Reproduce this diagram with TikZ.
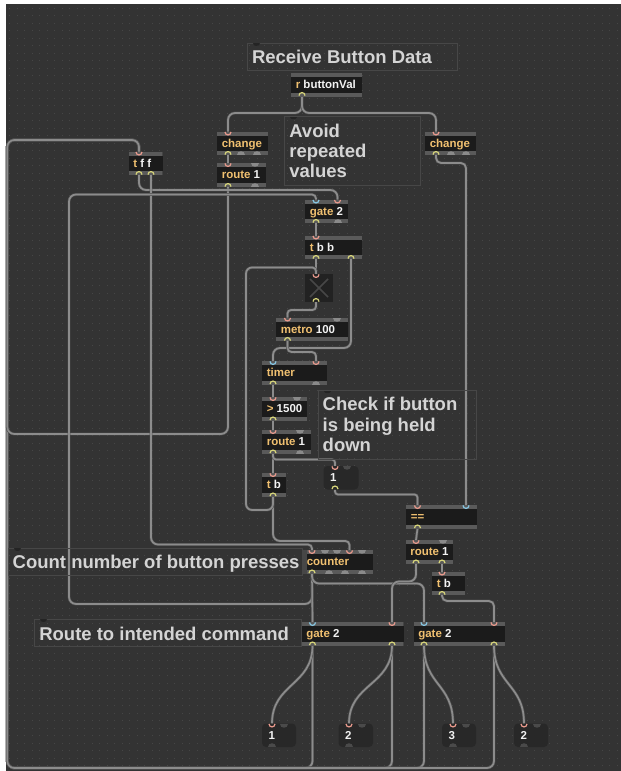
\documentclass[tikz,border=0pt]{standalone}
\usepackage{fontspec}
\setmainfont{Liberation Sans}
\definecolor{bgc}{HTML}{333333}
\definecolor{dotc}{HTML}{464646}
\definecolor{bodyc}{HTML}{1B1B1B}
\definecolor{barc}{HTML}{5A5A5A}
\definecolor{cls}{HTML}{F0C070}
\definecolor{argc}{HTML}{F2F2F2}
\definecolor{cordc}{HTML}{8C8C8C}
\definecolor{cordedge}{HTML}{4E4E4E}
\definecolor{hot}{HTML}{E8998C}
\definecolor{cold}{HTML}{86C6E2}
\definecolor{outc}{HTML}{D6D47A}
\definecolor{bump}{HTML}{8A8A8A}
\definecolor{mbump}{HTML}{4A4A4A}
\definecolor{msgc}{HTML}{282828}
\definecolor{cmtc}{HTML}{D4D4D4}
\definecolor{cmtbox}{HTML}{474747}
\definecolor{tabc}{HTML}{242424}
\definecolor{togc}{HTML}{222222}
\definecolor{togx}{HTML}{474747}
\tikzset{
  cord/.style={draw=cordedge, line width=0.6pt, double=cordc, double distance=1.7pt, rounded corners=7pt},
  mobox/.style={fill=bodyc, inner sep=0pt, outer sep=0pt, minimum height=23.5pt,
    path picture={\fill[barc] (path picture bounding box.north west) rectangle ([yshift=-4pt]path picture bounding box.north east);
                  \fill[barc] (path picture bounding box.south west) rectangle ([yshift=4pt]path picture bounding box.south east);}},
  msgbox/.style={fill=msgc, rounded corners=4pt, inner sep=0pt, outer sep=0pt, minimum height=23.5pt},
  otext/.style={inner sep=0pt, outer sep=0pt, text=argc, font=\fontsize{11.5}{13}\selectfont\bfseries},
  ctext/.style={inner sep=0pt, outer sep=0pt, text=cmtc, font=\fontsize{18.5}{20}\selectfont\bfseries},
  cbox/.style={draw=cmtbox, line width=0.8pt, inner sep=0pt, outer sep=0pt, anchor=north west},
}
\newcommand\MO[6]{%
  \pgfmathsetmacro\mow{#3-#2}%
  \node[mobox, minimum width=\mow pt, anchor=north west] (#1) at (#2,#4) {};
  \node[otext, anchor=base west] (#1-txt) at ({#2+4.8},{#4+15.7}) {\textcolor{cls}{#5}#6};}
\newcommand\MB[5]{%
  \pgfmathsetmacro\mbw{#3-#2}%
  \node[msgbox, minimum width=\mbw pt, anchor=north west] (#1) at (#2,#4) {};
  \node[otext, anchor=base west] (#1-txt) at ({#2+6.5},{#4+15.5}) {#5};}
\newcommand\inarc[2]{\draw[#2, line width=1.2pt] ([xshift=-3pt,yshift=-0.4pt]#1) .. controls ([xshift=-3pt,yshift=-4.4pt]#1) and ([xshift=3pt,yshift=-4.4pt]#1) .. ([xshift=3pt,yshift=-0.4pt]#1);}
\newcommand\outarc[2]{\draw[#2, line width=1.2pt] ([xshift=-3pt,yshift=0.4pt]#1) .. controls ([xshift=-3pt,yshift=4.4pt]#1) and ([xshift=3pt,yshift=4.4pt]#1) .. ([xshift=3pt,yshift=0.4pt]#1);}
\newcommand\inbump[3]{\fill[#3] ({#1-4},#2) .. controls ({#1-4},{#2+5}) and ({#1+4},{#2+5}) .. ({#1+4},#2) -- cycle;}
\newcommand\outbump[3]{\fill[#3] ({#1-4},#2) .. controls ({#1-4},{#2-5}) and ({#1+4},{#2-5}) .. ({#1+4},#2) -- cycle;}
\newcommand\ctab[2]{\fill[tabc] ({#1+5.5},#2) .. controls ({#1+5.5},{#2+3.5}) and ({#1+12.5},{#2+3.5}) .. ({#1+12.5},#2) -- cycle;}
\begin{document}
\begin{tikzpicture}[x=1pt,y=-1pt]
\useasboundingbox (0,0) rectangle (621,771);
\fill[white] (0,0) rectangle (621,771);
\fill[bgc] (5.5,4) rectangle (621,771);
\foreach \yy in {0,...,101}
  \draw[dotc, line width=1pt, dash pattern=on 1pt off 6.5pt] (9,{8+7.5*\yy}) -- (621,{8+7.5*\yy});

% ---- inlet / outlet points
\coordinate (rbv-o1) at (302,96);
\coordinate (chL-i1) at (228,131.5); \coordinate (chL-o1) at (228,155);
\coordinate (rt1-i1) at (228,163); \coordinate (rt1-o1) at (228,187);
\coordinate (chR-i1) at (436,131.5); \coordinate (chR-o1) at (436,155);
\coordinate (tff-i1) at (139,151.5); \coordinate (tff-o1) at (139,175); \coordinate (tff-o2) at (151,175);
\coordinate (gA-i1) at (316,199.5); \coordinate (gA-i2) at (337.5,199.5); \coordinate (gA-o1) at (316,223);
\coordinate (tbb-i1) at (316,235.5); \coordinate (tbb-o1) at (316,259); \coordinate (tbb-o2) at (351,259);
\coordinate (tog-i1) at (316,274); \coordinate (tog-o1) at (316,302);
\coordinate (met-i1) at (287.5,317.5); \coordinate (met-o1) at (287.5,341);
\coordinate (tim-i1) at (273,361); \coordinate (tim-i2) at (316,361); \coordinate (tim-o1) at (273,384.5);
\coordinate (gt-i1) at (273,397); \coordinate (gt-o1) at (273,420.5);
\coordinate (rt2-i1) at (273,430); \coordinate (rt2-o1) at (273,453.5);
\coordinate (tbM-i1) at (273,473); \coordinate (tbM-o1) at (273,496.5);
\coordinate (m1-i1) at (335,466); \coordinate (m1-o1) at (335,489.5);
\coordinate (eq-i1) at (417.5,505); \coordinate (eq-i2) at (466,505); \coordinate (eq-o1) at (417.5,528.5);
\coordinate (rt3-i1) at (416,540); \coordinate (rt3-o1) at (416,563.5); \coordinate (rt3-o2) at (442,563.5);
\coordinate (tbL-i1) at (442,571.5); \coordinate (tbL-o1) at (442,595);
\coordinate (cnt-i1) at (312,550); \coordinate (cnt-i4) at (349.5,550); \coordinate (cnt-o1) at (312,573.5);
\coordinate (gB-i1) at (312.5,622); \coordinate (gB-i2) at (392,622); \coordinate (gB-o1) at (312.5,645.5); \coordinate (gB-o2) at (392,645.5);
\coordinate (gC-i1) at (424,622); \coordinate (gC-i2) at (494,622); \coordinate (gC-o1) at (424,645.5); \coordinate (gC-o2) at (494,645.5);
\coordinate (n1-i1) at (272,723.5); \coordinate (n2-i1) at (349,723.5);
\coordinate (n3-i1) at (453,723.5); \coordinate (n4-i1) at (524,723.5);
\coordinate (botline) at (0,768);

% ---- cords
\foreach \c in {gB-o1,gB-o2,gC-o1,gC-o2}
  \draw[cord] (\c) -- (\c |- botline) -- (7.3,768) -- (7.3,140) -| (tff-i1);
\draw[cord] (rt1-o1) -- (228,434) -- (7.3,434) -- (7.3,140) -| (tff-i1);
\draw[cord] (rbv-o1) -- ++(0,17) -| (chL-i1);
\draw[cord] (rbv-o1) -- ++(0,17) -| (chR-i1);
\draw[cord] (chL-o1) -- (rt1-i1);
\draw[cord] (tff-o1) -- ++(0,15) -| (gA-i2);
\draw[cord] (tff-o2) -- (151,544.5) [rounded corners=4pt] -| (cnt-i1);
\draw[cord] (cnt-o1) -- (312,604) -- (69,604) -- (69,194.5) [rounded corners=4pt] -| (gA-i1);
\draw[cord] (cnt-o1) -- (gB-i1);
\draw[cord] (cnt-o1) -- ++(0,10) -| (gC-i1);
\draw[cord] (gA-o1) -- (tbb-i1);
\draw[cord] (tbb-o1) -- (tog-i1);
\draw[cord] (tbb-o2) -- (351,348) -| (tim-i1);
\draw[cord, rounded corners=3.5pt] (tog-o1) -- ++(0,8) -| (met-i1);
\draw[cord, rounded corners=4pt] (met-o1) -- ++(0,11) -| (tim-i2);
\draw[cord] (tim-o1) -- (gt-i1);
\draw[cord] (gt-o1) -- (rt2-i1);
\draw[cord] (rt2-o1) -- (tbM-i1);
\draw[cord, rounded corners=3pt] (rt2-o1) -- ++(0,6) -| (m1-i1);
\draw[cord] (tbM-o1) -- (273,541) [rounded corners=4pt] -| (cnt-i4);
\draw[cord, rounded corners=6pt] (tbM-o1) -- (273,510) -- (246,510) -- (246,267.5) [rounded corners=3.5pt] -| (tog-i1);
\draw[cord, rounded corners=3pt] (m1-o1) -- ++(0,5) -| (eq-i1);
\draw[cord, rounded corners=5pt] (chR-o1) -- ++(0,8) -| (eq-i2);
\draw[cord] (eq-o1) -- (rt3-i1);
\draw[cord] (rt3-o1) -- (416,581.5) -| (gB-i2);
\draw[cord] (rt3-o2) -- (tbL-i1);
\draw[cord, rounded corners=5pt] (tbL-o1) -- ++(0,6) -| (gC-i2);
\draw[cord] (gB-o1) .. controls +(0,40) and +(0,-40) .. (n1-i1);
\draw[cord] (gB-o2) .. controls +(0,40) and +(0,-40) .. (n2-i1);
\draw[cord] (gC-o1) .. controls +(0,40) and +(0,-40) .. (n3-i1);
\draw[cord] (gC-o2) .. controls +(0,40) and +(0,-40) .. (n4-i1);

% ---- objects
\MO{rbv}{291}{362}{73}{r}{\ buttonVal}
\MO{chL}{217}{268}{131.5}{change}{}
\MO{rt1}{217}{266}{163}{route}{\ 1}
\MO{chR}{425}{476}{131.5}{change}{}
\MO{tff}{128.5}{162.5}{151.5}{t}{\ f f}
\MO{gA}{305}{348}{199.5}{gate}{\ 2}
\MO{tbb}{305}{362}{235.5}{t}{\ b b}
\MO{met}{276}{348}{317.5}{metro}{\ 100}
\MO{tim}{262}{327}{361}{timer}{}
\MO{gt}{262}{307}{397}{>}{\ 1500}
\MO{rt2}{262}{311}{430}{route}{\ 1}
\MO{tbM}{262}{286}{473}{t}{\ b}
\MO{eq}{406}{477}{505}{==}{}
\MO{rt3}{405.5}{453}{540}{route}{\ 1}
\MO{tbL}{432}{465}{571.5}{t}{\ b}
\MO{cnt}{302}{373}{550}{counter}{}
\MO{gB}{301.5}{403.5}{622}{gate}{\ 2}
\MO{gC}{413.5}{505}{622}{gate}{\ 2}
\node[fill=togc, minimum width=28pt, minimum height=28pt, inner sep=0pt, outer sep=0pt, anchor=north west] (tog) at (305,274) {};
\draw[togx, line width=1.6pt] (310,279) -- (328,297) (328,279) -- (310,297);
\MB{m1}{323.5}{358.5}{466}{1}
\MB{n1}{262}{296}{723.5}{1}
\MB{n2}{338.5}{373}{723.5}{2}
\MB{n3}{442}{476}{723.5}{3}
\MB{n4}{514}{548}{723.5}{2}

% ---- ports
\foreach \p in {rbv-o1,chL-o1,rt1-o1,chR-o1,tff-o1,tff-o2,gA-o1,tbb-o1,tbb-o2,tog-o1,met-o1,tim-o1,gt-o1,rt2-o1,tbM-o1,m1-o1,eq-o1,rt3-o1,rt3-o2,tbL-o1,cnt-o1,gB-o1,gB-o2,gC-o1,gC-o2}
  {\outarc{\p}{outc}}
\foreach \p in {chL-i1,rt1-i1,chR-i1,tff-i1,gA-i2,tbb-i1,tog-i1,met-i1,tim-i2,gt-i1,rt2-i1,tbM-i1,m1-i1,eq-i1,rt3-i1,tbL-i1,cnt-i1,cnt-i4,gB-i2,gC-i2,n1-i1,n2-i1,n3-i1,n4-i1}
  {\inarc{\p}{hot}}
\foreach \p in {gA-i1,tim-i1,eq-i2,gB-i1,gC-i1}
  {\inarc{\p}{cold}}
\outbump{241}{155}{bump} \outbump{257}{155}{bump}
\inbump{255}{163}{bump} \outbump{255}{187}{bump}
\outbump{451}{155}{bump} \outbump{466}{155}{bump}
\outbump{338}{223}{bump}
\inbump{337}{317.5}{bump}
\outbump{316}{384.5}{bump}
\inbump{297}{397}{bump}
\inbump{300}{430}{bump} \outbump{300}{453.5}{bump}
\inbump{347}{466}{mbump}
\inbump{442.5}{540}{bump}
\inbump{324.5}{550}{bump} \inbump{337}{550}{bump} \inbump{362}{550}{bump}
\outbump{328.7}{573.5}{bump} \outbump{345.3}{573.5}{bump} \outbump{362}{573.5}{bump}
\inbump{283.5}{723.5}{mbump} \outbump{272}{747}{mbump}
\inbump{362}{723.5}{mbump} \outbump{349}{747}{mbump}
\inbump{466}{723.5}{mbump} \outbump{453}{747}{mbump}
\inbump{537}{723.5}{mbump} \outbump{524}{747}{mbump}

% ---- comments
\fill[cmtbox] (302,550) rectangle (307,573.5);
\node[cbox, minimum width=209.5pt, minimum height=27pt] (c1) at (247.5,43) {};
\node[ctext, anchor=base west] (c1t) at (252,63) {Receive Button Data};
\ctab{247.5}{43}
\node[cbox, minimum width=135.7pt, minimum height=68.3pt] (c2) at (284.3,116.7) {};
\node[ctext, anchor=base west] (c2a) at (289.3,137.3) {Avoid};
\node[ctext, anchor=base west] (c2b) at (289.3,157.5) {repeated};
\node[ctext, anchor=base west] (c2c) at (289.3,177.5) {values};
\ctab{284.3}{116.7}
\node[cbox, minimum width=158.4pt, minimum height=68.6pt] (c3) at (318.3,390.7) {};
\node[ctext, anchor=base west] (c3a) at (322.7,410.7) {Check if button};
\node[ctext, anchor=base west] (c3b) at (322.7,431) {is being held};
\node[ctext, anchor=base west] (c3c) at (322.7,451.3) {down};
\ctab{318.3}{390.7}
\node[cbox, minimum width=293.3pt, minimum height=26.7pt] (c4) at (8.7,548.3) {};
\node[ctext, anchor=base west] (c4t) at (12.7,568.3) {Count number of button presses};
\ctab{8.7}{548.3}
\node[cbox, minimum width=267.2pt, minimum height=27.7pt] (c5) at (34.3,619) {};
\node[ctext, anchor=base west] (c5t) at (39.3,640) {Route to intended command};
\ctab{34.3}{619}
\end{tikzpicture}
\end{document}
